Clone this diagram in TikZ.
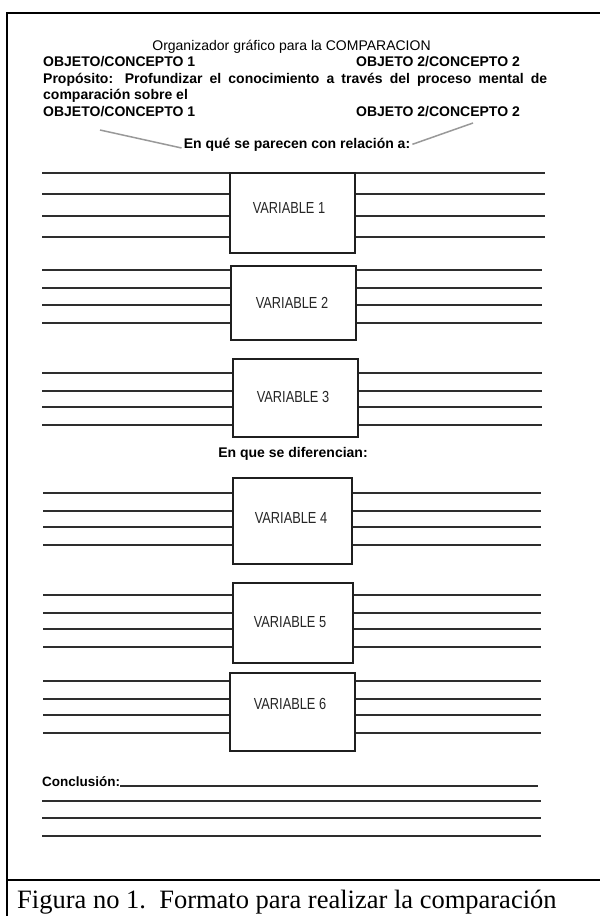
\documentclass[tikz,border=0pt]{standalone}
\usepackage{fontspec}
\setmainfont{Liberation Sans}
\newfontfamily\capfont{Liberation Serif}
\newfontfamily\narrowfont{Liberation Sans}[FakeStretch=0.8]
\begin{document}
\begin{tikzpicture}[x=1pt,y=-1pt,
  frameline/.style={line width=2pt, black},
  rule/.style={line width=1.4pt, black!82},
  vbox/.style={draw=black!88, line width=1.4pt, inner sep=0pt},
  vlabel/.style={font=\narrowfont\fontsize{16}{19}\selectfont, inner sep=0pt, text=black!85},
  head/.style={font=\bfseries\fontsize{14}{16}\selectfont, inner sep=0pt, anchor=base west},
  titletext/.style={font=\fontsize{14}{16}\selectfont, inner sep=0pt, anchor=base},
  pointer/.style={line width=1.5pt, black!40},
  captext/.style={font=\capfont\fontsize{26.5}{30}\selectfont, inner sep=0pt, anchor=base west}]
\useasboundingbox (0,0) rectangle (600,916);
\fill[white] (0,0) rectangle (600,916);
% frame
\draw[frameline] (7,916) -- (7,13) -- (600,13);
\draw[frameline] (7,880) -- (600,880);
% header
\node[titletext] (title) at (291.5,50) {Organizador gráfico para la COMPARACION};
\node[head] (o1) at (43,66.5) {OBJETO/CONCEPTO 1};
\node[head] (o2) at (356,66.5) {OBJETO 2/CONCEPTO 2};
\node[head] (prop) at (43,83) {\makebox[504pt][s]{Propósito: Profundizar el conocimiento a través del proceso mental de}};
\node[head] (comp) at (43,99.5) {comparación sobre el};
\node[head] (o3) at (43,116) {OBJETO/CONCEPTO 1};
\node[head] (o4) at (356,116) {OBJETO 2/CONCEPTO 2};
\node[head, anchor=base] (par) at (297,148) {En qué se parecen con relación a:};
\coordinate (pl) at (100,130);
\coordinate (pr) at (473,123);
\draw[pointer] (pl) -- ([xshift=-2pt]par.base west);
\draw[pointer] ([xshift=2pt]par.east) -- (pr);
% variable boxes
\node[vbox, minimum width=125pt, minimum height=80pt] (v1) at (292.5,213) {};
\node[vbox, minimum width=125pt, minimum height=74pt] (v2) at (293.5,303) {};
\node[vbox, minimum width=125pt, minimum height=78pt] (v3) at (295.5,398) {};
\node[vbox, minimum width=119pt, minimum height=86pt] (v4) at (292.5,521) {};
\node[vbox, minimum width=120pt, minimum height=80pt] (v5) at (293,623) {};
\node[vbox, minimum width=125pt, minimum height=78pt] (v6) at (292.5,712) {};
\node[vlabel] (l1) at (289,208) {VARIABLE 1};
\node[vlabel] (l2) at (292,303) {VARIABLE 2};
\node[vlabel] (l3) at (293,397) {VARIABLE 3};
\node[vlabel] (l4) at (291,518) {VARIABLE 4};
\node[vlabel] (l5) at (290,622) {VARIABLE 5};
\node[vlabel] (l6) at (290,704) {VARIABLE 6};
% rules beside the boxes
\foreach \n/\ya/\yb/\yc/\yd/\xl/\xr in {1/173/194/216/237/42/545, 2/270/288/305/323/42/542, 3/373/391/407/425/42/542, 4/493/511/527/545/43/541, 5/595/613/629/647/43/541, 6/681/699/715/733/43/541}{
  \foreach \y in {\ya,\yb,\yc,\yd}{
    \coordinate (t) at (0,\y);
    \draw[rule] (\xl,\y) -- (v\n.west |- t);
    \draw[rule] (v\n.east |- t) -- (\xr,\y);
  }
}
\node[head, anchor=base] (dif) at (293,457) {En que se diferencian:};
% conclusion
\node[head, font=\bfseries\fontsize{13.5}{16}\selectfont] (conc) at (42,786) {Conclusión:};
\coordinate (ce) at (538,786);
\draw[rule] (conc.base east) -- (ce);
\foreach \y in {801,818,836}{
  \draw[rule] (42,\y) -- (541,\y);
}
% caption
\node[captext] (cap) at (17,908) {Figura no 1.\ \ Formato para realizar la comparación};
\end{tikzpicture}
\end{document}
